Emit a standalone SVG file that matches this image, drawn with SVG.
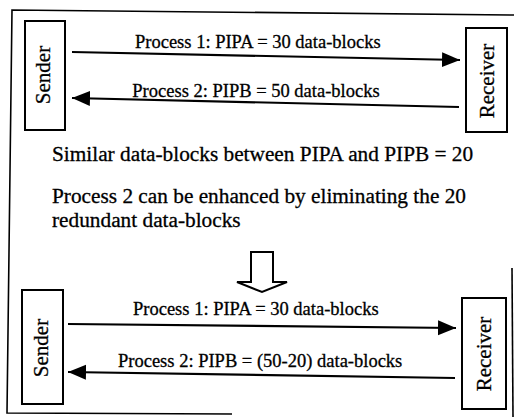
<svg xmlns="http://www.w3.org/2000/svg" width="514" height="417" viewBox="0 0 514 417">
  <style>
    .frame { fill: none; stroke: #000; stroke-width: 1.6; }
    .box { fill: #fff; stroke: #000; stroke-width: 2; }
    .wire { fill: none; stroke: #000; stroke-width: 2.2; marker-end: url(#head); }
    text { font-family: "Liberation Serif", "Times New Roman", serif; fill: #000; stroke: #000; stroke-width: 0.3; }
    .lbl { font-size: 18.5px; }
    .note { font-size: 21.3px; }
    .name { font-size: 21px; text-anchor: middle; }
  </style>
  <defs>
    <marker id="head" markerUnits="userSpaceOnUse" markerWidth="19" markerHeight="16" refX="18" refY="7.5" orient="auto">
      <path d="M0,0 L18,7.5 L0,15 Z" fill="#000"/>
    </marker>
  </defs>
  <rect width="514" height="417" fill="#fff"/>

  <!-- outer frame -->
  <g id="frame">
    <path class="frame" d="M514,15 L12,10 L7,413 L232,414"/>
    <path class="frame" d="M512,268 L513,417"/>
  </g>

  <!-- connectors -->
  <g id="connectors">
    <path class="wire" d="M72,52 L460,60"/>
    <path class="wire" d="M459,107 L72,98"/>
    <path class="wire" d="M68,324 L456,328"/>
    <path class="wire" d="M455,378 L68,372"/>
    <path id="down-arrow" d="M251,252 H273 V282 H287 L262,292 L237,282 H251 Z" fill="#fff" stroke="#000" stroke-width="2"/>
  </g>

  <!-- before: full transfer -->
  <g id="sender-1">
    <rect class="box" x="25" y="21" width="40" height="109"/>
    <text class="name" transform="translate(50,75) rotate(-90)">Sender</text>
  </g>
  <g id="receiver-1">
    <rect class="box" x="466" y="28" width="41" height="104"/>
    <text class="name" transform="translate(494,81) rotate(-90)">Receiver</text>
  </g>
  <g id="labels-1">
    <text class="lbl" x="135" y="48">Process 1: PIPA = 30 data-blocks</text>
    <text class="lbl" x="256" y="97" text-anchor="middle">Process 2: PIPB = 50 data-blocks</text>
  </g>

  <!-- explanation -->
  <g id="notes">
    <text class="note" x="52" y="161">Similar data-blocks between PIPA and PIPB = 20</text>
    <text class="note" x="52" y="203">Process 2 can be enhanced by eliminating the 20</text>
    <text class="note" x="52" y="227">redundant data-blocks</text>
  </g>

  <!-- after: redundant blocks removed -->
  <g id="sender-2">
    <rect class="box" x="22" y="290" width="41" height="114"/>
    <text class="name" transform="translate(48,348) rotate(-90)">Sender</text>
  </g>
  <g id="receiver-2">
    <rect class="box" x="462" y="298" width="44" height="111"/>
    <text class="name" transform="translate(491,354) rotate(-90)">Receiver</text>
  </g>
  <g id="labels-2">
    <text class="lbl" x="133" y="315">Process 1: PIPA = 30 data-blocks</text>
    <text class="lbl" x="118" y="367">Process 2: PIPB = (50-20) data-blocks</text>
  </g>
</svg>
